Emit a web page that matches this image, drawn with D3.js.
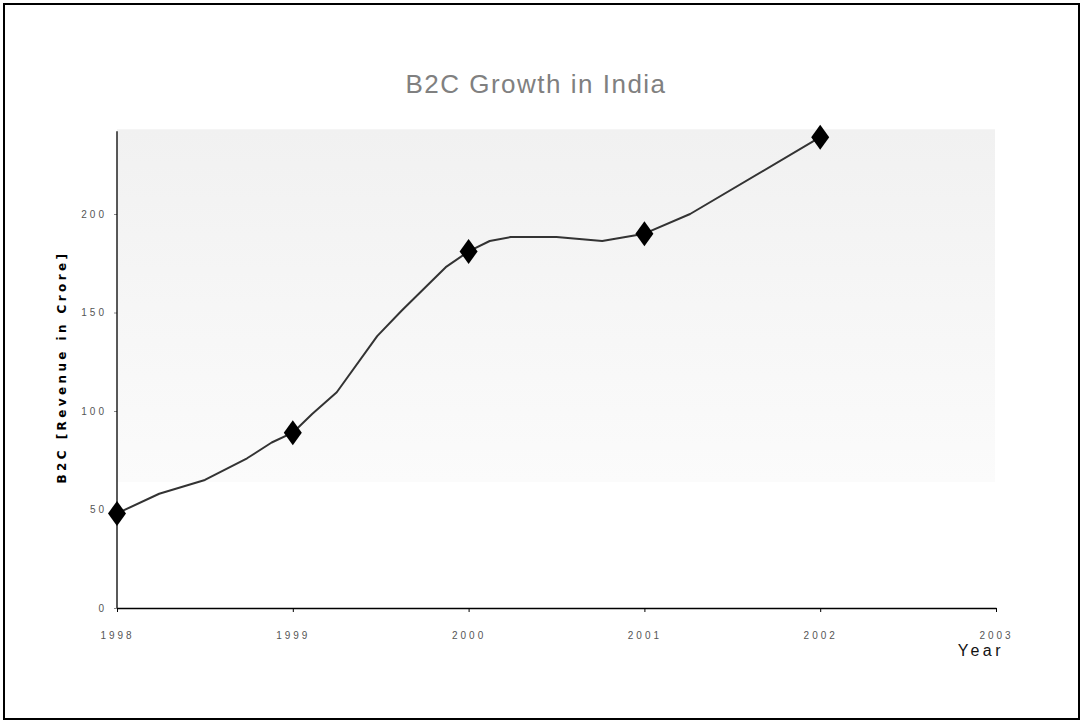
<!DOCTYPE html>
<html>
<head>
<meta charset="utf-8">
<script src="https://cdn.jsdelivr.net/npm/d3@7"></script>
<style>
  html, body { margin: 0; padding: 0; background: #fff; }
  svg { display: block; }
</style>
</head>
<body>
<svg id="chart" width="1081" height="721"></svg>
<script>
// ---- data ----
const title = "B2C Growth in India";
const yAxisTitle = "B2C [Revenue in Crore]";
const xAxisTitle = "Year";
const years = [1998, 1999, 2000, 2001, 2002];
const values = [48, 89, 181, 190, 239];
// smoothed line vertices (year, value)
const lineYears  = [1998, 1998.24, 1998.5, 1998.74, 1998.88, 1999, 1999.11, 1999.25, 1999.48, 1999.62, 1999.87, 2000, 2000.12, 2000.24, 2000.5, 2000.76, 2001, 2001.26, 2002];
const lineValues = [48, 58, 65, 76, 84, 89, 98.5, 109.5, 138, 151, 173, 181, 186.3, 188.3, 188.3, 186.3, 190, 200, 239];
const xTicks = [1998, 1999, 2000, 2001, 2002, 2003];
const yTicks = [0, 50, 100, 150, 200];

const svg = d3.select("#chart");
const font = "'Liberation Sans Narrow', 'Liberation Sans', Arial, sans-serif";

// outer frame
svg.append("rect").attr("x", 4).attr("y", 4).attr("width", 1075).attr("height", 715)
  .attr("fill", "#fff").attr("stroke", "#000").attr("stroke-width", 2);

const x = d3.scaleLinear().domain([1998, 2003]).range([117, 996]);
const y = d3.scaleLinear().domain([0, 200]).range([608, 214]);

// plot background band with gradient
const defs = svg.append("defs");
const grad = defs.append("linearGradient").attr("id", "bg").attr("x1", 0).attr("y1", 0).attr("x2", 0).attr("y2", 1);
grad.append("stop").attr("offset", "0%").attr("stop-color", "#f1f1f1");
grad.append("stop").attr("offset", "100%").attr("stop-color", "#fbfbfb");
svg.append("rect").attr("x", x(1998)).attr("y", y(243)).attr("width", x(2003) - x(1998) - 1)
  .attr("height", y(64) - y(243)).attr("fill", "url(#bg)");

// title
svg.append("text").attr("x", 536).attr("y", 93).attr("text-anchor", "middle")
  .attr("font-family", font).attr("font-size", 26).attr("letter-spacing", 1.5)
  .attr("fill", "#808080").text(title);

// y axis
const yAxis = svg.append("g").attr("transform", `translate(${x(1998)},0)`)
  .call(d3.axisLeft(y).tickValues(yTicks).tickSize(3).tickPadding(7).tickSizeOuter(0));
yAxis.select(".domain").remove();
yAxis.selectAll(".tick line").attr("stroke", "#888");
yAxis.selectAll("text").attr("font-family", font).attr("font-size", 10)
  .attr("letter-spacing", 3).attr("fill", "#555");
svg.append("line").attr("x1", x(1998)).attr("x2", x(1998)).attr("y1", y(242)).attr("y2", y(0))
  .attr("stroke", "#000").attr("stroke-width", 1.3);

// x axis
const xAxis = svg.append("g").attr("transform", `translate(0,${y(0)})`)
  .call(d3.axisBottom(x).tickValues(xTicks).tickFormat(d3.format("d")).tickSize(4).tickPadding(20).tickSizeOuter(0));
xAxis.select(".domain").attr("stroke", "#000").attr("stroke-width", 1.3);
xAxis.selectAll(".tick line").attr("stroke", "#000");
xAxis.selectAll("text").attr("font-family", font).attr("font-size", 10)
  .attr("letter-spacing", 3).attr("fill", "#555");

// axis titles
svg.append("text").attr("x", 1004).attr("y", 656).attr("text-anchor", "end")
  .attr("font-family", font).attr("font-size", 16).attr("letter-spacing", 3.5)
  .attr("fill", "#111").text(xAxisTitle);
svg.append("text").attr("transform", "translate(66,367) rotate(-90)").attr("text-anchor", "middle")
  .attr("font-family", "'DejaVu Sans', sans-serif").attr("font-weight", "bold").attr("font-size", 12)
  .attr("letter-spacing", 3.4).attr("fill", "#000").text(yAxisTitle);

// line
const pts = lineYears.map((yr, i) => [yr, lineValues[i]]);
svg.append("path").datum(pts)
  .attr("d", d3.line().x(d => x(d[0])).y(d => y(d[1])))
  .attr("fill", "none").attr("stroke", "#333").attr("stroke-width", 2).attr("stroke-linejoin", "round");

// markers
const diamond = d3.symbol().type(d3.symbolDiamond).size(180);
svg.append("g").selectAll("path").data(years).join("path")
  .attr("d", diamond)
  .attr("transform", (d, i) => `translate(${x(d)},${y(values[i])}) scale(1.25,1)`)
  .attr("fill", "#000");
</script>
</body>
</html>
